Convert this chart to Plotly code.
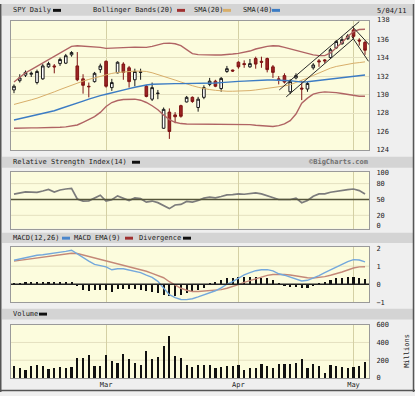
import plotly.graph_objects as go
import pandas as pd

# ---------------- data ----------------
holidays = ["2011-02-21", "2011-04-22"]
dates = [d.strftime("%Y-%m-%d") for d in pd.bdate_range("2011-02-04", "2011-05-04")
         if d.strftime("%Y-%m-%d") not in holidays]

month_ticks = ["2011-03-01", "2011-04-01", "2011-05-02"]
month_labels = ["Mar", "Apr", "May"]

opens = [130.5, 131.5, 132.1, 132.2, 131.3, 131.7, 133.0, 133.1, 133.35, 133.4,
         134.3, 133.1, 131.7, 130.9, 131.4, 132.7, 133.6, 130.75, 132.35, 133.3,
         132.9, 131.6, 132.4, 130.9, 129.5, 130.1, 126.35, 128.1, 127.8, 128.8,
         129.2, 129.7, 128.6, 129.7, 131.1, 131.45, 130.65, 132.5, 132.65, 133.5,
         133.35, 133.0, 133.9, 133.6, 133.9, 133.0, 131.7, 132.05, 130.3, 131.8,
         130.7, 130.6, 132.9, 133.65, 133.75, 134.0, 135.05, 135.5, 136.05, 137.0,
         135.9, 135.65]
highs = [131.1, 132.2, 132.6, 132.5, 132.7, 133.3, 133.55, 133.3, 134.0, 134.4,
         134.7, 134.6, 132.2, 131.3, 132.45, 133.35, 133.7, 131.7, 133.6, 133.5,
         133.1, 132.8, 132.8, 131.05, 131.3, 130.5, 128.6, 128.5, 128.1, 128.9,
         129.85, 129.8, 129.75, 131.0, 131.8, 131.6, 131.9, 133.1, 132.7, 133.6,
         133.7, 133.85, 134.1, 134.1, 134.0, 133.2, 132.0, 132.3, 131.65, 132.3,
         131.5, 131.35, 133.4, 133.85, 133.85, 135.05, 135.9, 136.3, 136.55, 137.2,
         136.1, 135.85]
lows = [130.15, 131.3, 131.9, 131.9, 131.1, 131.6, 132.9, 132.3, 133.1, 133.3,
        134.1, 131.45, 130.1, 129.7, 131.3, 132.35, 130.75, 130.4, 132.3, 131.6,
        130.75, 130.9, 131.6, 129.7, 129.3, 129.5, 126.3, 125.2, 126.9, 127.5,
        129.15, 129.1, 128.15, 129.5, 130.9, 130.8, 130.3, 132.35, 132.45, 132.8,
        132.9, 132.9, 132.8, 132.9, 132.4, 131.8, 131.1, 131.2, 130.05, 131.65,
        129.4, 130.3, 132.7, 133.0, 133.4, 133.85, 134.95, 135.4, 135.9, 136.1,
        135.3, 134.3]
closes = [130.9, 131.8, 132.4, 132.3, 132.5, 133.1, 133.35, 133.0, 133.8, 134.2,
          134.55, 131.6, 131.0, 130.85, 132.3, 133.1, 130.9, 131.3, 133.5, 132.4,
          131.4, 132.5, 132.45, 129.8, 130.75, 130.15, 128.4, 126.0, 127.6, 127.65,
          129.7, 129.25, 129.5, 130.75, 131.45, 130.9, 131.75, 132.8, 132.55, 133.0,
          133.25, 133.35, 133.3, 133.5, 132.7, 132.4, 131.6, 131.35, 131.4, 132.05,
          130.6, 131.2, 133.2, 133.55, 133.65, 134.85, 135.75, 135.95, 136.35, 136.3,
          135.8, 134.8]

bb_upper = [131.36, 131.82, 132.36, 132.71, 133.07, 133.5, 133.86, 134.21, 134.57, 134.93,
            135.21, 135.29, 135.25, 135.21, 135.18, 135.11, 135.0, 135.04, 135.11, 135.11,
            135.11, 135.14, 135.14, 135.11, 135.21, 135.36, 135.54, 135.57, 135.5, 135.29,
            134.86, 134.43, 134.32, 134.29, 134.29, 134.29, 134.29, 134.32, 134.39, 134.46,
            134.57, 134.71, 134.93, 135.11, 135.21, 135.29, 135.25, 135.11, 134.93, 134.75,
            134.57, 134.43, 134.29, 134.21, 134.21, 134.5, 135.04, 135.64, 136.29, 136.82,
            137.04, 137.07]
bb_lower = [126.36, 126.39, 126.39, 126.39, 126.39, 126.39, 126.39, 126.43, 126.46, 126.5,
            126.57, 126.71, 127.0, 127.29, 127.61, 128.07, 128.71, 129.14, 129.36, 129.46,
            129.5, 129.5, 129.39, 129.14, 128.79, 128.36, 127.79, 127.29, 127.0, 126.86,
            126.82, 126.82, 126.82, 126.82, 126.82, 126.82, 126.82, 126.82, 126.82, 126.82,
            126.79, 126.75, 126.68, 126.61, 126.57, 126.54, 126.64, 126.82, 127.18, 127.89,
            129.07, 129.61, 130.04, 130.21, 130.29, 130.29, 130.21, 130.11, 130.0, 129.86,
            129.82, 129.82]
sma20 = [128.93, 129.07, 129.25, 129.43, 129.61, 129.82, 130.07, 130.29, 130.54, 130.79,
         131.0, 131.21, 131.46, 131.64, 131.82, 132.0, 132.14, 132.29, 132.39, 132.46,
         132.5, 132.54, 132.54, 132.5, 132.36, 132.18, 132.0, 131.79, 131.57, 131.36,
         131.14, 130.96, 130.79, 130.64, 130.54, 130.46, 130.39, 130.36, 130.36, 130.36,
         130.39, 130.43, 130.5, 130.57, 130.64, 130.71, 130.82, 130.93, 131.07, 131.29,
         131.5, 131.79, 132.07, 132.36, 132.64, 132.86, 133.04, 133.18, 133.29, 133.39,
         133.46, 133.54]
sma40 = [127.25, 127.39, 127.5, 127.64, 127.75, 127.89, 128.07, 128.25, 128.46, 128.68,
         128.93, 129.11, 129.29, 129.5, 129.71, 129.89, 130.04, 130.21, 130.36, 130.5,
         130.64, 130.79, 130.93, 131.04, 131.11, 131.14, 131.18, 131.18, 131.18, 131.18,
         131.18, 131.18, 131.18, 131.21, 131.21, 131.25, 131.29, 131.36, 131.39, 131.43,
         131.46, 131.5, 131.54, 131.54, 131.57, 131.57, 131.57, 131.54, 131.5, 131.43,
         131.36, 131.39, 131.46, 131.54, 131.61, 131.68, 131.75, 131.82, 131.89, 131.96,
         132.04, 132.11]

# hand-drawn channel lines: (category index, price) endpoints
trend_lines = [
    [(46.1, 130.5), (60.0, 137.9)],
    [(47.3, 129.75), (59.1, 136.1)],
    [(58.8, 137.36), (62.8, 134.68)],
    [(58.7, 136.29), (61.6, 133.6)],
]

rsi = [60, 62.5, 64.5, 64, 63.5, 66, 69, 64, 68, 69.8,
       71, 51, 47, 47.5, 53, 58, 47, 49.4, 56.8, 53,
       48, 53, 51.5, 45, 47, 44, 39, 32.7, 39.5, 40.7,
       46.3, 45, 48.1, 52.5, 54.3, 53.1, 55.6, 58.6, 59.3, 60.5,
       59.9, 60.5, 62.3, 60.5, 57.4, 54.3, 50, 50, 50, 52.5,
       43.8, 48.1, 56.2, 60.5, 60.5, 63.6, 65.4, 67.9, 68.5, 69.8,
       66.7, 60.5]

macd = [1.33, 1.40, 1.46, 1.55, 1.60, 1.63, 1.67, 1.72, 1.77, 1.82,
        1.88, 1.68, 1.45, 1.28, 1.10, 1.02, 0.96, 0.80, 0.86, 0.86,
        0.78, 0.74, 0.64, 0.50, 0.38, 0.16, -0.22, -0.58, -0.74, -0.84,
        -0.85, -0.80, -0.70, -0.60, -0.46, -0.36, -0.20, 0.00, 0.15, 0.34,
        0.52, 0.64, 0.75, 0.80, 0.81, 0.74, 0.58, 0.50, 0.40, 0.28,
        0.18, 0.22, 0.34, 0.48, 0.64, 0.80, 0.96, 1.12, 1.25, 1.36,
        1.34, 1.24]
macd_ema = [1.28, 1.32, 1.36, 1.40, 1.45, 1.49, 1.52, 1.56, 1.61, 1.66,
            1.71, 1.70, 1.62, 1.55, 1.47, 1.38, 1.30, 1.20, 1.12, 1.06,
            0.98, 0.90, 0.82, 0.72, 0.60, 0.50, 0.36, 0.14, -0.06, -0.22,
            -0.33, -0.40, -0.40, -0.37, -0.35, -0.33, -0.30, -0.22, -0.14, -0.02,
            0.10, 0.20, 0.30, 0.40, 0.49, 0.54, 0.56, 0.54, 0.51, 0.46,
            0.40, 0.36, 0.35, 0.37, 0.42, 0.50, 0.58, 0.68, 0.79, 0.90,
            0.96, 0.97]
divergence = [0.06, 0.08, 0.10, 0.12, 0.12, 0.14, 0.12, 0.12, 0.14, 0.14,
              0.14, -0.08, -0.31, -0.36, -0.33, -0.33, -0.31, -0.40, -0.27, -0.27,
              -0.27, -0.27, -0.31, -0.36, -0.40, -0.49, -0.58, -0.67, -0.67, -0.58,
              -0.49, -0.40, -0.31, -0.18, 0.09, 0.14, 0.24, 0.36, 0.36, 0.42,
              0.42, 0.42, 0.42, 0.33, 0.33, 0.24, 0.05, -0.07, -0.13, -0.15,
              -0.18, -0.18, -0.07, 0.05, 0.14, 0.22, 0.33, 0.36, 0.42, 0.42,
              0.36, 0.27]

volume = [136, 118, 92, 140, 155, 136, 110, 121, 125, 118,
          125, 228, 228, 258, 144, 144, 258, 199, 177, 276,
          217, 173, 151, 302, 221, 236, 361, 471, 254, 228,
          147, 125, 147, 155, 147, 118, 129, 136, 136, 147,
          99, 121, 121, 166, 144, 121, 162, 162, 162, 169,
          217, 118, 158, 136, 63, 147, 144, 129, 118, 129,
          144, 184]

price_ticks = [124, 126, 128, 130, 132, 134, 136]
price_top_label = "138"
rsi_ticks = [0, 20, 50, 80, 100]
macd_ticks = [-1, 0, 1, 2]
vol_ticks = [0, 200, 400, 600]

# ---------------- layout helpers ----------------
W, H = 415, 396
def PX(x):
    return x / W
def PY(y):
    return 1 - y / H

FONT = "DejaVu Sans Mono"
TXT = "#222222"
PLOT_BG = "#fcfcdd"
PAPER = "#efefef"
BAND = "#d4d4d4"
GRID_H = "#e4e0c0"
GRID_V = "#d4d0a4"

c_bb = "#b06464"
c_sma20 = "#d8ae6a"
c_sma40 = "#3c7cc4"

fig = go.Figure()

# price panel lines
fig.add_trace(go.Scatter(x=dates, y=bb_upper, mode="lines", line=dict(color=c_bb, width=1.4),
                         xaxis="x", yaxis="y", hoverinfo="skip"))
fig.add_trace(go.Scatter(x=dates, y=bb_lower, mode="lines", line=dict(color=c_bb, width=1.4),
                         xaxis="x", yaxis="y", hoverinfo="skip"))
fig.add_trace(go.Scatter(x=dates, y=sma20, mode="lines", line=dict(color=c_sma20, width=1),
                         xaxis="x", yaxis="y", hoverinfo="skip"))
fig.add_trace(go.Scatter(x=dates, y=sma40, mode="lines", line=dict(color=c_sma40, width=1.4),
                         xaxis="x", yaxis="y", hoverinfo="skip"))
fig.add_trace(go.Candlestick(
    x=dates, open=opens, high=highs, low=lows, close=closes,
    xaxis="x", yaxis="y",
    increasing=dict(line=dict(color="#1a1a1a", width=1), fillcolor="#ffffff"),
    decreasing=dict(line=dict(color="#7e1414", width=1), fillcolor="#9e2424"),
    whiskerwidth=0,
))

# RSI
fig.add_trace(go.Scatter(x=dates, y=rsi, mode="lines", line=dict(color="#7c7c7c", width=1.7),
                         xaxis="x2", yaxis="y2", hoverinfo="skip"))

# MACD
fig.add_trace(go.Bar(x=dates, y=divergence, marker=dict(color="#111111", line=dict(width=0)),
                     width=0.36, xaxis="x3", yaxis="y3"))
fig.add_trace(go.Scatter(x=dates, y=macd_ema, mode="lines", line=dict(color="#c48878", width=1.4),
                         xaxis="x3", yaxis="y3", hoverinfo="skip"))
fig.add_trace(go.Scatter(x=dates, y=macd, mode="lines", line=dict(color="#74a8dc", width=1.4),
                         xaxis="x3", yaxis="y3", hoverinfo="skip"))

# Volume
fig.add_trace(go.Bar(x=dates, y=volume, marker=dict(color="#111111", line=dict(width=0)),
                     width=0.38, xaxis="x4", yaxis="y4"))

xdom = [PX(11), PX(369)]
xrange_ = [-0.52, 61.69]

def xaxis_cfg(show_labels, anchor):
    return dict(
        type="category", domain=xdom, range=xrange_, anchor=anchor,
        tickmode="array", tickvals=month_ticks, ticktext=month_labels,
        showticklabels=show_labels, ticks="", showgrid=True,
        gridcolor=GRID_V, gridwidth=1, showline=True, mirror=True,
        linecolor="#9a9a9a", linewidth=1, zeroline=False,
        tickfont=dict(family=FONT, size=7, color=TXT), rangeslider=dict(visible=False),
        fixedrange=True,
    )

def yaxis_cfg(dom, rng, ticks, anchor, grid=True):
    return dict(
        domain=dom, range=rng, anchor=anchor, side="right",
        tickmode="array", tickvals=ticks, showgrid=grid, gridcolor=GRID_H,
        zeroline=False, showline=True, mirror=True, linecolor="#9a9a9a", linewidth=1,
        ticks="outside", ticklen=5, tickcolor="rgba(0,0,0,0)",
        tickfont=dict(family=FONT, size=7, color=TXT), fixedrange=True,
    )

fig.update_layout(
    width=W, height=H, margin=dict(l=0, r=0, t=0, b=0),
    paper_bgcolor=PAPER, plot_bgcolor=PLOT_BG, showlegend=False,
    bargap=0, boxgap=0.35,
    xaxis=xaxis_cfg(False, "y"),
    xaxis2=xaxis_cfg(False, "y2"),
    xaxis3=xaxis_cfg(False, "y3"),
    xaxis4=xaxis_cfg(True, "y4"),
    yaxis=yaxis_cfg([PY(149), PY(17)], [124, 138], price_ticks, "x"),
    yaxis2=yaxis_cfg([PY(229.3), PY(171)], [-5.2, 102.8], rsi_ticks, "x2", grid=False),
    yaxis3=yaxis_cfg([PY(304.5), PY(248)], [-1.0, 2.06], macd_ticks, "x3", grid=False),
    yaxis4=yaxis_cfg([PY(381.7), PY(327.3)], [0, 600], vol_ticks, "x4", grid=False),
)

shapes = []
# header bands
for (y0, y1) in [(0, 12), (156, 167), (233.5, 244), (311, 322)]:
    shapes.append(dict(type="rect", xref="paper", yref="paper", x0=PX(2), x1=PX(413),
                       y0=PY(y1), y1=PY(y0), fillcolor=BAND, line=dict(width=0), layer="below"))

# RSI reference lines
for v in [20, 80]:
    shapes.append(dict(type="line", xref="x2 domain", yref="y2", x0=0, x1=1, y0=v, y1=v,
                       line=dict(color=GRID_H, width=1), layer="below"))
shapes.append(dict(type="line", xref="x2 domain", yref="y2", x0=0, x1=1, y0=50, y1=50,
                   line=dict(color="#55553a", width=1.5)))
# MACD lines
shapes.append(dict(type="line", xref="x3 domain", yref="y3", x0=0, x1=1, y0=1, y1=1,
                   line=dict(color=GRID_H, width=1), layer="below"))
shapes.append(dict(type="line", xref="x3 domain", yref="y3", x0=0, x1=1, y0=0, y1=0,
                   line=dict(color="#222222", width=1.5)))
# Volume grid
for v in [200, 400]:
    shapes.append(dict(type="line", xref="x4 domain", yref="y4", x0=0, x1=1, y0=v, y1=v,
                       line=dict(color=GRID_H, width=1), layer="below"))

# trend lines
for (a, b) in trend_lines:
    shapes.append(dict(type="line", xref="x", yref="y", x0=a[0], y0=a[1], x1=b[0], y1=b[1],
                       line=dict(color="#2a2a2a", width=1)))

# legend swatches
swatches = [
    (53, 61, 6.5, "#111111"), (177, 185, 6.5, "#a03030"), (223, 231, 6.5, c_sma20),
    (272, 280, 6.5, c_sma40), (132, 140, 161.5, "#111111"),
    (62, 70, 239, "#4a86cc"), (125, 133, 239, "#a03030"), (183, 191, 239, "#111111"),
    (39, 47, 316.5, "#111111"),
]
for x0, x1, yc, col in swatches:
    shapes.append(dict(type="rect", xref="paper", yref="paper", x0=PX(x0), x1=PX(x1),
                       y0=PY(yc + 1.5), y1=PY(yc - 1.5), fillcolor=col, line=dict(width=0)))

# outer frame
shapes.append(dict(type="line", xref="paper", yref="paper", x0=PX(0.75), x1=PX(0.75), y0=0, y1=1,
                   line=dict(color="#555555", width=1.5)))
shapes.append(dict(type="line", xref="paper", yref="paper", x0=PX(413.5), x1=PX(413.5), y0=0, y1=1,
                   line=dict(color="#555555", width=1.5)))
shapes.append(dict(type="line", xref="paper", yref="paper", x0=0, x1=1, y0=PY(394.5), y1=PY(394.5),
                   line=dict(color="#555555", width=1.5)))
fig.update_layout(shapes=shapes)

annots = []
def txt(x, y, s, color=TXT, size=7, anchor="left", angle=0, bold=False, yanchor="middle"):
    annots.append(dict(xref="paper", yref="paper", x=PX(x), y=PY(y), text=("<b>%s</b>" % s) if bold else s,
                       showarrow=False, xanchor=anchor, yanchor=yanchor, textangle=angle, align="left",
                       font=dict(family=FONT, size=size, color=color)))

txt(11, 6.5, "SPY Daily")
txt(91, 6.5, "Bollinger Bands(20)")
txt(192, 6.5, "SMA(20)")
txt(241, 6.5, "SMA(40)")
txt(375, 1.5, "5/04/11<br>" + price_top_label, yanchor="top")
txt(11, 161.5, "Relative Strength Index(14)")
txt(370, 161.5, "©BigCharts.com", color="#707070", anchor="right", bold=True)
txt(11, 239, "MACD(12,26)")
txt(72, 239, "MACD EMA(9)")
txt(137, 239, "Divergence")
txt(11, 316.5, "Volume")
txt(407, 354, "Millions", angle=-90, anchor="center")
fig.update_layout(annotations=annots)

fig.write_html("out.html", config={"displayModeBar": False},
               post_script="document.body.style.margin='0px';document.body.style.overflow='hidden';")
